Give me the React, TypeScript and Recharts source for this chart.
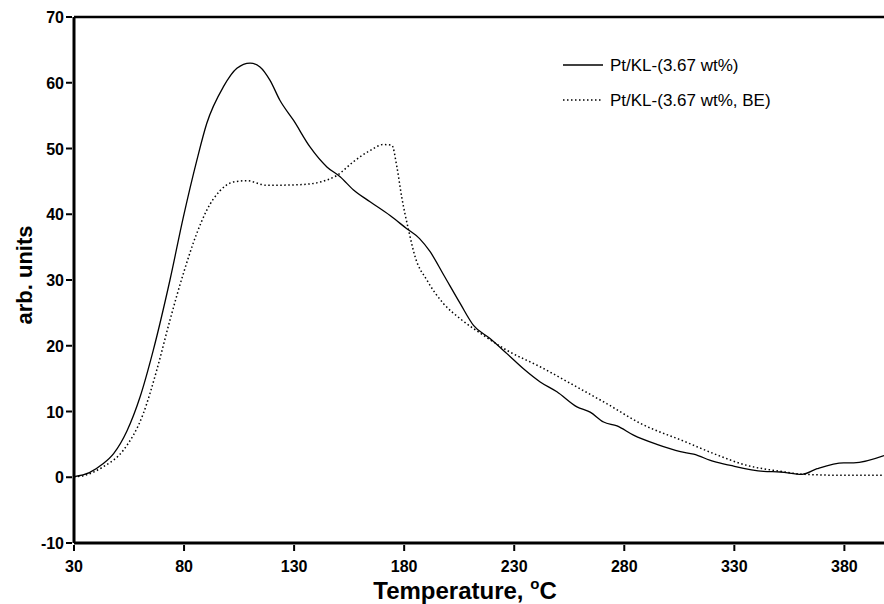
import { LineChart, Line, XAxis, YAxis, ReferenceLine } from 'recharts';

const solidTemp = [30, 37, 43, 48, 54, 60, 66, 73.6, 79.7, 85.8, 90.3, 97.9, 104, 110, 114.5, 119, 123.6, 129.7, 137.3, 144.9, 150.9, 157, 164.5, 173.6, 181.2, 187, 191.8, 197.9, 205.5, 211.5, 219, 226.7, 234.2, 241.8, 249.4, 258.5, 264.5, 270.6, 276.7, 284.2, 294.8, 305.5, 311.5, 320.6, 328.2, 343.3, 350.9, 360.8, 367.6, 379.7, 384.2, 398];
const solidVal = [0.1, 0.7, 2.0, 3.6, 7.0, 12.2, 19.3, 30, 39.6, 48.2, 53.8, 59.4, 62.2, 63, 62.4, 60.4, 57.3, 54.3, 50.2, 47.2, 45.7, 43.7, 41.9, 39.8, 37.8, 36.3, 34.3, 30.8, 26.4, 23.1, 21.1, 18.8, 16.5, 14.5, 13, 10.7, 9.9, 8.4, 7.8, 6.4, 5, 3.9, 3.5, 2.4, 1.8, 0.9, 0.8, 0.45, 1.3, 2.2, 2.2, 3.3];

const dotTemp = [30, 35, 43.3, 52.4, 61.5, 67.6, 73.6, 79.7, 85.8, 90.3, 96.4, 102.4, 108.5, 117.6, 132.7, 141.8, 149.4, 157, 164.5, 170.6, 174.4, 176.7, 178.9, 182, 185, 190.3, 197.9, 205.5, 216, 226.7, 241.8, 257, 272, 287.3, 307.7, 320.6, 335.8, 350.9, 361.5, 379.7, 398];
const dotVal = [0.05, 0.3, 1.6, 4.1, 9.7, 16.3, 23.9, 31, 37.1, 40.6, 43.6, 44.9, 45.1, 44.4, 44.5, 44.9, 45.9, 48, 49.7, 50.6, 50.5, 47.2, 42.6, 37.6, 33.5, 30, 26.4, 24.1, 21.6, 19.3, 16.8, 14, 11.2, 8.2, 5.4, 3.6, 1.8, 0.9, 0.45, 0.3, 0.3];

const xTicks = [30, 80, 130, 180, 230, 280, 330, 380];
const yTicks = [-10, 0, 10, 20, 30, 40, 50, 60, 70];

const seriesNames = ['Pt/KL-(3.67 wt%)', 'Pt/KL-(3.67 wt%, BE)'];

const solidData = solidTemp.map((t, i) => ({ t, v: solidVal[i] }));
const dotData = dotTemp.map((t, i) => ({ t, v: dotVal[i] }));

const FONT = "Arial, 'Liberation Sans', sans-serif";

function XTick(props: any) {
  const { x, y, payload } = props;
  return (
    <g>
      <line x1={x} x2={x} y1={y - 6} y2={y} stroke="#000" strokeWidth={2} />
      <text x={x} y={y + 21} textAnchor="middle" fontFamily={FONT} fontWeight="bold" fontSize={16} fill="#000">
        {payload.value}
      </text>
    </g>
  );
}

function YTick(props: any) {
  const { x, y, payload } = props;
  return (
    <g>
      <line x1={x} x2={x + 6} y1={y} y2={y} stroke="#000" strokeWidth={2} />
      <text x={x - 2} y={y + 6} textAnchor="end" fontFamily={FONT} fontWeight="bold" fontSize={16} fill="#000">
        {payload.value}
      </text>
    </g>
  );
}

export default function App() {
  return (
    <div style={{ position: 'absolute', left: 0, top: 0, width: 884, height: 604, background: '#fff' }}>
      <LineChart width={884} height={604} margin={{ top: 17, right: 0, bottom: 0, left: 0 }}>
        <XAxis
          type="number"
          dataKey="t"
          domain={[30, 398]}
          ticks={xTicks}
          allowDataOverflow
          height={61}
          axisLine={{ stroke: '#000', strokeWidth: 3 }}
          tickLine={false}
          tick={<XTick />}
        />
        <YAxis
          type="number"
          domain={[-10, 70]}
          ticks={yTicks}
          width={74}
          axisLine={{ stroke: '#000', strokeWidth: 3 }}
          tickLine={false}
          tick={<YTick />}
        />
        <ReferenceLine y={70} stroke="#000" strokeWidth={2.5} />
        <Line
          data={solidData}
          dataKey="v"
          name={seriesNames[0]}
          type="monotone"
          stroke="#000"
          strokeWidth={1.3}
          dot={false}
          isAnimationActive={false}
        />
        <Line
          data={dotData}
          dataKey="v"
          name={seriesNames[1]}
          type="monotone"
          stroke="#000"
          strokeWidth={1.5}
          strokeDasharray="1.5 2.5"
          dot={false}
          isAnimationActive={false}
        />
      </LineChart>
      <svg width={884} height={604} style={{ position: 'absolute', left: 0, top: 0, pointerEvents: 'none' }}>
        <text x={465} y={599} textAnchor="middle" fontFamily={FONT} fontWeight="bold" fontSize={24} fill="#000">
          Temperature, <tspan dy={-10} fontSize={15}>o</tspan><tspan dy={10}>C</tspan>
        </text>
        <text x={32} y={275} transform="rotate(-90, 32, 275)" textAnchor="middle" fontFamily={FONT} fontWeight="bold" fontSize={22} fill="#000">
          arb. units
        </text>
        {seriesNames.map((name, i) => (
          <g key={name}>
            <line x1={563} x2={603} y1={65 + i * 35} y2={65 + i * 35} stroke="#000" strokeWidth={1.3} strokeDasharray={i === 1 ? '1.5 2.5' : undefined} />
            <text x={610} y={71 + i * 35} fontFamily={FONT} fontSize={17} fill="#000">{name}</text>
          </g>
        ))}
      </svg>
    </div>
  );
}
